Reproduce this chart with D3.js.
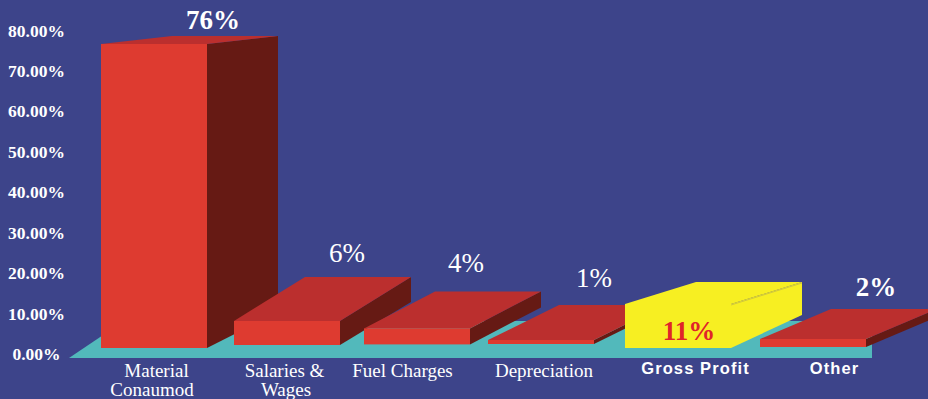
<!DOCTYPE html>
<html>
<head>
<meta charset="utf-8">
<script src="https://cdn.jsdelivr.net/npm/d3@7"></script>
<style>
  html, body { margin: 0; padding: 0; background: #3d448a; }
  svg { display: block; }
  text { font-family: "Liberation Serif", serif; fill: #fff; }
</style>
</head>
<body>
<svg id="chart" width="928" height="399"></svg>
<script>
// Chart data
const categories = ["Material Conaumod", "Salaries & Wages", "Fuel Charges", "Depreciation", "Gross Profit", "Other"];
const shares = [76, 6, 4, 1, 11, 2];
const liftAboveFloor = [0, 0.75, 0.9, 1, 0, 0.25];
const axisTicks = [0, 10, 20, 30, 40, 50, 60, 70, 80];

// Layout of the hand-composed 3D scene
const W = 928, H = 399, barWidth = 106, depthX = 71;
const barLefts = [101, 234, 364, 488, 625, 760];
const topRises = [8, 44, 37, 35, 22, 30];
const baseRises = [36, 43, 37, 35, 33, 30];
const labelCentres = [156.5, 284.5, 402.5, 544, 695.5, 834.5];
const secondLineShift = [-4.5, 1.5, 0, 0, 0, 0];
const valueLabelX = [213, 347, 466, 594, 689, 876];
const valueLabelY = [29, 262, 272, 287, 340, 296];

const colors = {
  front: "#de3b30", top: "#bb2f2e", side: "#661a14",
  floor: "#52b9bb", highlight: "#f7ef22", crease: "#bdb54a"
};

const svg = d3.select("#chart");
const x = d3.scaleOrdinal().domain(categories).range(barLefts);
const labelX = d3.scaleOrdinal().domain(categories).range(labelCentres);
const y = d3.scaleLinear().domain([0, 80]).range([348, 28]);
const yAxisScale = d3.scaleLinear().domain([0, 80]).range([354, 30.5]);

const rows = categories.map((name, i) => ({
  name, value: shares[i], lift: liftAboveFloor[i],
  topRise: topRises[i], baseRise: baseRises[i],
  valueX: valueLabelX[i], valueY: valueLabelY[i],
  shift: secondLineShift[i]
}));

const pts = p => p.map(q => q.join(",")).join(" ");

// Floor slab under the bars; its far right corner sits behind the last bar
const floorFront = 358, floorBack = 321;
svg.append("polygon")
  .attr("fill", colors.floor)
  .attr("points", pts([[69, floorFront], [872, floorFront], [872, floorBack], [124, floorBack]]));

// Bars, painted back to front in reading order
const bars = svg.selectAll("g.bar").data(rows).join("g").attr("class", "bar");

bars.each(function (d) {
  const g = d3.select(this);
  const l = x(d.name), r = l + barWidth;
  const top = y(d.value + d.lift), bottom = y(d.lift);
  const isHighlight = d.name === "Gross Profit";

  g.append("polygon")
    .attr("fill", isHighlight ? colors.highlight : colors.side)
    .attr("points", pts([[r, top], [r + depthX, top - d.topRise], [r + depthX, bottom - d.baseRise], [r, bottom]]));
  g.append("polygon")
    .attr("fill", isHighlight ? colors.highlight : colors.top)
    .attr("points", pts([[l, top], [l + depthX, top - d.topRise], [r + depthX, top - d.topRise], [r, top]]));
  g.append("rect")
    .attr("x", l).attr("y", top)
    .attr("width", barWidth).attr("height", bottom - top)
    .attr("fill", isHighlight ? colors.highlight : colors.front);

  if (isHighlight) {
    g.append("line")
      .attr("x1", r).attr("y1", top + 1)
      .attr("x2", r + depthX).attr("y2", top - d.topRise + 1)
      .attr("stroke", colors.crease).attr("stroke-width", 0.7);
  }
});

// Percentage axis, labels only
const axis = d3.axisLeft(yAxisScale)
  .tickValues(axisTicks)
  .tickSize(0)
  .tickFormat(v => d3.format(".2f")(v) + "%");

const axisG = svg.append("g").attr("transform", "translate(36.5,0)").call(axis);
axisG.select(".domain").remove();
axisG.selectAll("text")
  .attr("x", 0).attr("text-anchor", "middle")
  .attr("font-family", '"Liberation Serif", serif')
  .attr("font-size", 17.5).attr("font-weight", "bold").attr("fill", "#fff");

// Value labels above each bar
const boldValues = new Set(["Material Conaumod", "Gross Profit", "Other"]);
svg.selectAll("text.value").data(rows).join("text")
  .attr("class", "value")
  .attr("x", d => d.valueX).attr("y", d => d.valueY)
  .attr("text-anchor", "middle")
  .attr("font-size", 27)
  .attr("font-weight", d => boldValues.has(d.name) ? "bold" : "normal")
  .style("fill", d => d.name === "Gross Profit" ? "#e0242a" : "#fff")
  .text(d => d3.format("d")(d.value) + "%");

// Category labels: serif two-liners, with the last two set in a heavy sans
const wrapped = { "Material Conaumod": ["Material", "Conaumod"], "Salaries & Wages": ["Salaries &", "Wages"] };
rows.forEach(d => {
  const sans = d.name === "Gross Profit" || d.name === "Other";
  const t = svg.append("text")
    .attr("text-anchor", "middle")
    .attr("x", labelX(d.name))
    .attr("y", sans ? 374 : 377);
  if (sans) {
    t.style("font-family", '"Liberation Sans", sans-serif')
      .attr("font-size", 16.5).attr("font-weight", "bold")
      .attr("letter-spacing", 1.1).text(d.name);
  } else {
    t.attr("font-size", 19);
    (wrapped[d.name] || [d.name]).forEach((line, i) => {
      t.append("tspan").attr("x", labelX(d.name) + (i ? d.shift : 0)).attr("dy", i ? 19 : 0).text(line);
    });
  }
});
</script>
</body>
</html>
